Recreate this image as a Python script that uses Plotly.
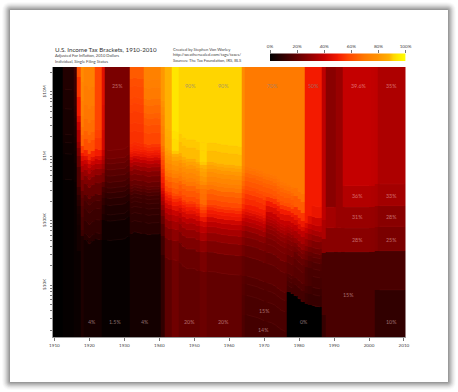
import numpy as np
import plotly.graph_objects as go

W, H = 458, 392
years = list(range(1910, 2011))
# consumer price level, one value per year
cpi = [9.1,9.1,9.7,9.9,10.0,10.1,10.9,12.8,15.1,17.3,20.0,17.9,16.8,17.1,17.1,17.5,17.7,17.4,17.1,17.1,
       16.7,15.2,13.7,13.0,13.4,13.7,13.9,14.4,14.1,13.9,14.0,14.7,16.3,17.3,17.6,18.0,19.5,22.3,24.1,23.8,
       24.1,26.0,26.5,26.7,26.9,26.8,27.2,28.1,28.9,29.1,29.6,29.9,30.2,30.6,31.0,31.5,32.4,33.4,34.8,36.7,
       38.8,40.5,41.8,44.4,49.3,53.8,56.9,60.6,65.2,72.6,82.4,90.9,96.5,99.6,103.9,107.6,109.6,113.6,118.3,124.0,
       130.7,136.2,140.3,144.5,148.2,152.4,156.9,160.5,163.0,166.6,172.2,177.1,179.9,184.0,188.9,195.3,201.6,207.3,215.3,214.5,218.1]

ladder_1910 = ([], [0])
ladder_1913 = ([20000,50000,75000,100000,250000,500000], [1,2,3,4,5,6,7])
ladder_1916 = ([20000,40000,60000,80000,100000,150000,200000,250000,300000,500000,1000000,1500000,2000000],
               [2,3,4,5,6,7,8,9,10,11,12,13,14,15])
ladder_1917 = ([2000,5000,7500,10000,12500,15000,20000,40000,60000,80000,100000,150000,200000,250000,500000,1000000,2000000],
               [2,4,5,6,8,9,12,16,21,26,31,35,40,45,50,55,60,67])
ladder_1918 = ([4000,5000,8000,12000,16000,20000,30000,40000,50000,60000,70000,80000,100000,150000,200000,300000,500000,1000000],
               [6,12,14,16,18,20,25,30,35,40,45,50,56,65,68,71,73,75,77])
ladder_1919 = ([4000,5000,8000,12000,16000,20000,30000,40000,50000,60000,70000,80000,100000,150000,200000,300000,500000,1000000],
               [4,8,10,12,14,16,21,26,31,36,41,46,52,60,64,67,69,71,73])
ladder_1922 = ([4000,5000,8000,12000,16000,20000,30000,40000,50000,60000,70000,80000,100000,150000,200000],
               [4,8,10,12,14,16,21,25,30,35,40,45,50,55,57,58])
ladder_1924 = ([4000,8000,10000,14000,18000,22000,26000,32000,44000,50000,60000,70000,80000,100000,200000,500000],
               [1.5,3,6,8,10,12,14,18,24,28,31,34,37,40,43,45,46])
ladder_1925 = ([4000,8000,10000,14000,18000,22000,26000,32000,40000,50000,62000,74000,100000],
               [1.5,3,5,6,8,10,12,14,16,18,20,22,24,25])
ladder_1932 = ([4000,6000,8000,10000,12000,14000,16000,18000,20000,22000,26000,32000,38000,44000,50000,56000,62000,68000,74000,80000,
                90000,100000,150000,200000,300000,400000,500000,750000,1000000],
               [4,8,9,10,11,12,13,15,17,19,21,24,27,31,35,39,43,47,49,51,52,53,54,55,56,57,58,59,60,63])
ladder_1936 = ([4000,6000,8000,10000,12000,14000,16000,18000,20000,22000,26000,32000,38000,44000,50000,56000,62000,68000,74000,80000,
                90000,100000,150000,200000,250000,300000,400000,500000,750000,1000000,2000000,3000000,5000000],
               [4,8,9,10,11,12,13,15,17,19,21,24,27,31,35,39,43,47,49,51,53,55,58,60,62,64,66,68,70,72,73,75,77,79])
ladder_1941 = ([2000,4000,6000,8000,10000,12000,14000,16000,18000,20000,22000,26000,32000,38000,44000,50000,60000,70000,80000,90000,
                100000,150000,200000,300000,400000,500000],
               [10,13,17,21,25,29,33,36,39,42,45,48,51,53,55,57,59,62,64,67,68,71,73,75,77,79,81])
ladder_1942 = ([2000,4000,6000,8000,10000,12000,14000,16000,18000,20000,22000,26000,32000,38000,44000,50000,60000,70000,80000,90000,100000,150000,200000],
               [19,22,26,30,34,38,42,46,49,52,55,58,62,66,69,72,75,78,80,82,84,86,87,88])
ladder_1944 = ([2000,4000,6000,8000,10000,12000,14000,16000,18000,20000,22000,26000,32000,38000,44000,50000,60000,70000,80000,90000,100000,150000,200000],
               [23,25,29,33,37,41,46,50,53,56,59,62,65,68,72,75,78,81,84,87,90,92,93,94])
ladder_1946 = ([2000,4000,6000,8000,10000,12000,14000,16000,18000,20000,22000,26000,32000,38000,44000,50000,60000,70000,80000,90000,100000,150000,200000],
               [20,22,26,30,34,38,43,47,50,53,56,59,62,65,69,72,75,78,81,84,87,89,90,91])
ladder_1952 = ([2000,4000,6000,8000,10000,12000,14000,16000,18000,20000,22000,26000,32000,38000,44000,50000,60000,70000,80000,90000,100000,150000,200000],
               [22,25,29,34,38,42,48,53,56,59,62,66,67,68,71,77,80,83,85,88,90,91,91,91])
ladder_1954 = ([2000,4000,6000,8000,10000,12000,14000,16000,18000,20000,22000,26000,32000,38000,44000,50000,60000,70000,80000,90000,100000,150000,200000],
               [20,22,26,30,34,38,42,48,50,53,56,59,62,65,69,72,75,78,81,84,87,89,90,91])
ladder_1964 = ([500,1000,1500,2000,4000,6000,8000,10000,12000,14000,16000,18000,20000,22000,26000,32000,38000,44000,50000,60000,70000,80000,90000,100000,200000],
               [16,16.5,17.5,18,20,23.5,27,30,34,37.5,41,44.5,47.5,50,53,56,58.5,61,63.5,66,68.5,71,73.5,75,76.5,77])
ladder_1965 = ([500,1000,1500,2000,4000,6000,8000,10000,12000,14000,16000,18000,20000,22000,26000,32000,38000,44000,50000,60000,70000,80000,90000,100000],
               [14,15,16,17,19,22,25,28,32,36,39,42,45,48,50,53,55,58,60,62,64,66,68,69,70])
ladder_1971 = ([500,1000,1500,2000,4000,6000,8000,10000,12000,14000,16000,18000,20000,22000,26000,32000,38000,44000,50000,60000,70000,80000,90000,100000],
               [14,15,16,17,19,21,24,25,27,29,31,34,36,38,40,45,50,55,60,62,64,66,68,69,70])
ladder_1977 = ([2200,2700,3200,3700,4200,6200,8200,10200,12200,14200,16200,18200,20200,22200,24200,28200,34200,40200,46200,52200,62200,72200,82200,92200,102200],
               [0,14,15,16,17,19,21,24,25,27,29,31,34,36,38,40,45,50,55,60,62,64,66,68,69,70])
ladder_1979 = ([2300,3400,4400,6500,8500,10800,12900,15000,18200,23500,28800,34100,41500,55300,81800,108300],
               [0,14,16,18,19,21,24,26,30,34,39,44,49,55,63,68,70])
ladder_1982 = ([2300,3400,4400,8500,10800,12900,15000,18200,23500,28800,34100,41500],
               [0,12,14,16,19,22,23,27,31,35,40,44,50])
ladder_1983 = ([2300,3400,4400,8500,10800,12900,15000,18200,23500,28800,34100,41500,55300],
               [0,11,13,15,17,19,21,24,28,32,36,40,45,50])
ladder_1984 = ([2300,3400,4400,6500,8500,10800,12900,15000,18200,23500,28800,34100,41500,55300,81800],
               [0,11,12,14,15,16,18,20,23,26,30,34,38,42,48,50])
ladder_1987 = ([1800,16800,27000,54000], [11,15,28,35,38.5])
# from 1988 the limits are already in 2010 dollars
ladder_1988 = ([32500,78000,162000], [15,28,33,28])
ladder_1991 = ([32500,78000], [15,28,31])
ladder_1993 = ([32500,76500,162000,354000], [15,28,31,36,39.6])
ladder_2001 = ([32500,76500,162000,354000], [15,27.5,30.5,35.5,39.1])
ladder_2002 = ([8400,34000,82000,171000,372000], [10,15,27,30,35,38.6])
ladder_2003 = ([8400,34000,82000,171000,372000], [10,15,25,28,33,35])

era_start = [1910,1913,1916,1917,1918,1919,1922,1924,1925,1932,1936,1941,1942,1944,1946,1952,1954,1964,1965,1971,1977,1979,1982,1983,1984,1987,1988,1991,1993,2001,2002,2003]
era_ladder = [ladder_1910,ladder_1913,ladder_1916,ladder_1917,ladder_1918,ladder_1919,ladder_1922,ladder_1924,ladder_1925,ladder_1932,
              ladder_1936,ladder_1941,ladder_1942,ladder_1944,ladder_1946,ladder_1952,ladder_1954,ladder_1964,ladder_1965,ladder_1971,
              ladder_1977,ladder_1979,ladder_1982,ladder_1983,ladder_1984,ladder_1987,ladder_1988,ladder_1991,ladder_1993,ladder_2001,ladder_2002,ladder_2003]

label_text = ["25%","90%","90%","70%","50%","39.6%","35%","36%","33%","31%","28%","28%","25%","15%","10%","0%","15%","14%","4%","1.5%","4%","20%","20%"]
label_year = [1927.9,1948.8,1958.5,1972.5,1984,1997.1,2006.3,1996.8,2006.3,1996.8,2006.3,1996.8,2006.3,1994,2006.3,1981.4,1970.2,1969.9,1920.7,1927.3,1935.9,1948.5,1958.3]
label_income = [12.6e6,12.6e6,12.6e6,12.6e6,12.6e6,12.6e6,12.6e6,240e3,240e3,113e3,113e3,50e3,50e3,7000,2670,2670,3950,2000,2670,2670,2670,2670,2670]
label_light = [1,0,0,0,0,1,1,1,1,1,1,1,1,1,1,1,1,1,1,1,1,1,1]

minor_ticks = [2e3,3e3,4e3,5e3,6e3,7e3,8e3,9e3,1e4,2e4,3e4,4e4,5e4,6e4,7e4,8e4,9e4,1e5,2e5,3e5,4e5,5e5,6e5,7e5,8e5,9e5,1e6,
               2e6,3e6,4e6,5e6,6e6,7e6,8e6,9e6,1e7,2e7]
tick_names = {1e4:"$10K",1e5:"$100K",1e6:"$1M",1e7:"$10M"}
bar_ticks = [0,20,40,60,80,100]
bar_names = ["0%","20%","40%","60%","80%","100%"]
color_stops = [[0,"#000000"],[0.25,"#7a0000"],[0.396,"#c40000"],[0.5,"#f31a00"],[0.58,"#ff4500"],[0.7,"#ff7a00"],
               [0.79,"#ff9000"],[0.88,"#ffb000"],[0.91,"#ffd500"],[0.94,"#ffe600"],[1,"#ffff00"]]

# plot rectangle in page pixels
L, R, T, B = 52.7, 405.7, 67, 337
y_low, y_high = 10**3.194, 10**7.388
edges = np.logspace(np.log10(y_low), np.log10(y_high), 541)
centers = np.sqrt(edges[:-1]*edges[1:])

z = np.zeros((len(centers), len(years)))
seam_x, seam_y = [], []
for e, start in enumerate(era_start):
    stop = era_start[e+1] if e+1 < len(era_start) else 2011
    limits = era_ladder[e][0]
    rates = np.array(era_ladder[e][1])
    era_years = list(range(start, stop))
    for yr in era_years:
        j = yr - 1910
        factor = 1.0 if yr >= 1988 else cpi[-1]/cpi[j]
        z[:, j] = rates[np.searchsorted(np.array(limits, dtype=float)*factor, centers)]
    for lim in limits:
        for yr in era_years:
            factor = 1.0 if yr >= 1988 else cpi[-1]/cpi[yr-1910]
            seam_x.append(yr); seam_y.append(lim*factor)
        seam_x.append(None); seam_y.append(None)

fig = go.Figure(go.Heatmap(x=years, y=edges, z=z, zmin=0, zmax=100, colorscale=color_stops,
                           hoverinfo="skip", showscale=False))
# faint seams between neighbouring brackets
fig.add_trace(go.Scatter(x=seam_x, y=seam_y, mode="lines", line=dict(color="rgba(255,110,110,0.10)", width=0.6),
                         hoverinfo="skip", connectgaps=False))

# colour key, drawn as its own small heatmap so that its ticks can sit above it
key_x = np.linspace(0, 100, 273)
fig.add_trace(go.Heatmap(x=key_x, y=[0, 1], z=[key_x, key_x], zmin=0, zmax=100, colorscale=color_stops,
                         hoverinfo="skip", showscale=False, xaxis="x2", yaxis="y2"))

def px_x(v): return v/W
def px_y(v): return 1-v/H

def rounded(x0, y0, x1, y1, r):
    a, b, c, d = px_x(x0), px_x(x1), px_y(y0), px_y(y1)
    rx, ry = r/W, r/H
    return (f"M {a+rx} {c} L {b-rx} {c} Q {b} {c} {b} {c-ry} L {b} {d+ry} Q {b} {d} {b-rx} {d} "
            f"L {a+rx} {d} Q {a} {d} {a} {d+ry} L {a} {c-ry} Q {a} {c} {a+rx} {c} Z")

shapes = []
shadow_alpha = [0.02, 0.03, 0.04, 0.05, 0.07, 0.08, 0.09, 0.10]
for i, alpha in zip(range(8, 0, -1), shadow_alpha):
    shapes.append(dict(type="path", xref="paper", yref="paper", layer="below",
                       path=rounded(10-i, 10-i, 448+i, 382+i, i+1),
                       fillcolor=f"rgba(0,0,0,{alpha})", line_width=0))
shapes.append(dict(type="rect", xref="paper", yref="paper", layer="below", x0=px_x(10), x1=px_x(448),
                   y0=px_y(10), y1=px_y(382), fillcolor="#ffffff", line_width=0))

ann = []
def note(text, x, y, size, color="#444444"):
    ann.append(dict(text=text, xref="paper", yref="paper", x=px_x(x), y=px_y(y), xanchor="left", yanchor="middle",
                    showarrow=False, font=dict(family="Lato", size=size, color=color)))
note("U.S. Income Tax Brackets, 1910-2010", 53, 49.5, 6.2, "#333333")
note("Adjusted For Inflation, 2010 Dollars", 53, 55.5, 4.1)
note("Individual, Single Filing Status", 53, 61, 4.1)
note("Created by Stephen Von Worley", 171, 49.5, 4.1)
note("http://weathersealed.com/tags/taxes/", 171, 55, 4.1)
note("Sources: The Tax Foundation, IRS, BLS", 171, 60.5, 4.1)
for t, xv, yv, light in zip(label_text, label_year, label_income, label_light):
    ann.append(dict(text=t, x=xv, y=np.log10(yv), xref="x", yref="y", showarrow=False,
                    font=dict(family="Lato", size=5.3, color="rgba(255,215,215,0.5)" if light else "rgba(140,130,130,0.75)")))

fig.update_layout(
    width=W, height=H, margin=dict(l=0, r=0, t=0, b=0, autoexpand=False), paper_bgcolor="#ffffff", plot_bgcolor="#ffffff",
    shapes=shapes, annotations=ann, showlegend=False,
    xaxis=dict(domain=[L/W, R/W], range=[1909.5, 2010.5], tickvals=years[::10], ticktext=[str(v) for v in years[::10]],
               ticks="outside", ticklen=2.5, tickwidth=0.6, tickcolor="#777", showgrid=False, zeroline=False,
               showline=True, linecolor="#999", linewidth=1, tickangle=0, ticklabelstandoff=1,
               tickfont=dict(family="Lato", size=4.6, color="#444")),
    yaxis=dict(domain=[1-B/H, 1-T/H], type="log", range=[np.log10(y_low), np.log10(y_high)],
               tickvals=minor_ticks, ticktext=[tick_names.get(v, "") for v in minor_ticks], tickangle=-90,
               ticks="outside", ticklen=1.5, tickwidth=0.5, tickcolor="#777", showgrid=False, zeroline=False,
               showline=True, linecolor="#999", linewidth=1, ticklabelstandoff=2,
               tickfont=dict(family="Lato", size=4.6, color="#444")),
    xaxis2=dict(domain=[270/W, 405.5/W], range=[0, 100], anchor="y2", side="top", tickvals=bar_ticks, ticktext=bar_names,
                ticks="outside", ticklen=2.5, tickwidth=0.6, tickcolor="#777", showgrid=False, zeroline=False, tickangle=0,
                tickfont=dict(family="Lato", size=4.6, color="#444"), ticklabelstandoff=0),
    yaxis2=dict(domain=[1-61/H, 1-53.5/H], range=[0, 1], anchor="x2", visible=False),
)
fig.write_html("out.html", config={"displayModeBar": False},
               post_script="document.body.style.margin='0';document.documentElement.style.overflow='hidden';")
